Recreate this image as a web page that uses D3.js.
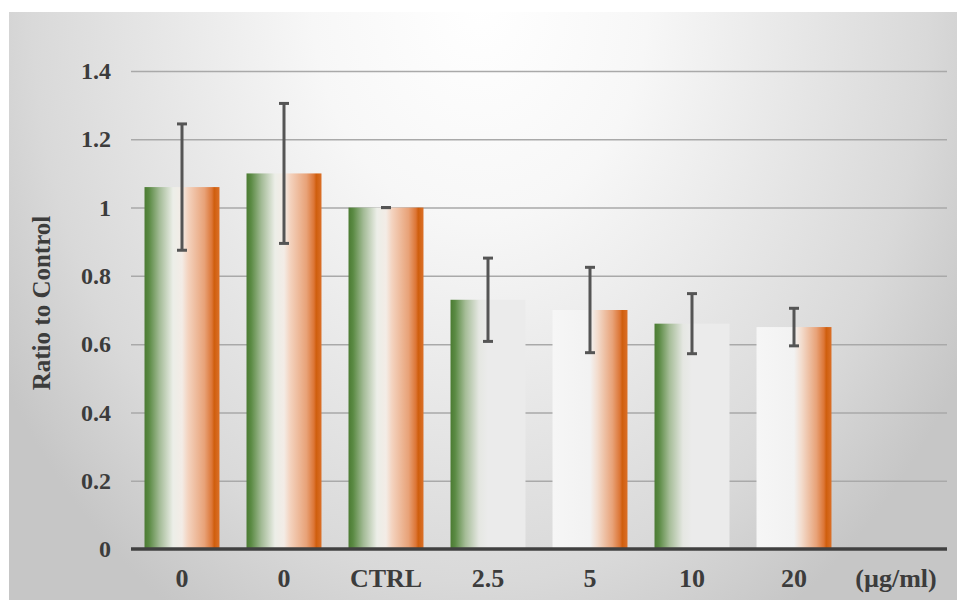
<!DOCTYPE html>
<html><head><meta charset="utf-8">
<script src="https://cdn.jsdelivr.net/npm/d3@7"></script>
<style>
html,body{margin:0;padding:0;background:#fff;}
svg{display:block;}
</style></head>
<body>
<script>
const categories = ["0", "0", "CTRL", "2.5", "5", "10", "20"];
const unitLabel = "(µg/ml)";
const values = [1.06, 1.10, 1.00, 0.73, 0.70, 0.66, 0.65];
const errors = [0.185, 0.205, 0.0, 0.122, 0.125, 0.088, 0.055];
const fillTypes = ["full", "full", "full", "green", "orange", "green", "orange"];
const yTicks = [0, 0.2, 0.4, 0.6, 0.8, 1, 1.2, 1.4];
const yTitle = "Ratio to Control";

const W = 957, H = 600;
const svg = d3.select("body").append("svg").attr("width", W).attr("height", H);
const defs = svg.append("defs");
const FONT = "'Liberation Serif', 'Times New Roman', serif";
const TXT = "#3c3c3c";

// background
const bg = defs.append("radialGradient").attr("id", "bg")
  .attr("gradientUnits", "userSpaceOnUse")
  .attr("cx", 480).attr("cy", 0).attr("r", 560)
  .attr("gradientTransform", "translate(480,0) scale(1,1.3) translate(-480,0)");
[[0, "#ffffff"], [0.3, "#f7f7f7"], [0.8, "#d9d9d9"], [1, "#c6c6c6"]].forEach(([o, c]) =>
  bg.append("stop").attr("offset", o).attr("stop-color", c));
svg.append("rect").attr("x", 9).attr("y", 12).attr("width", W - 9).attr("height", H - 12).attr("fill", "url(#bg)");

function grad(id, stops) {
  const g = defs.append("linearGradient").attr("id", id).attr("x1", 0).attr("x2", 1).attr("y1", 0).attr("y2", 0);
  stops.forEach(([o, c]) => g.append("stop").attr("offset", o).attr("stop-color", c));
}
grad("full", [[0, "#4b7b32"], [0.06, "#5a8a43"], [0.2, "#a3bb96"], [0.38, "#eceee8"], [0.5, "#f3ece6"], [0.58, "#f4d3bf"], [0.8, "#e8a278"], [0.9, "#dc7535"], [0.93, "#cf5e0d"], [1, "#db7028"]]);
grad("green", [[0, "#4b7b32"], [0.06, "#5a8a43"], [0.2, "#a6bd98"], [0.38, "#e5e7e2"], [0.5, "#ebebeb"], [1, "#ebebeb"]]);
grad("orange", [[0, "#f6f6f6"], [0.5, "#f2f2f2"], [0.6, "#f3dccd"], [0.8, "#e8a278"], [0.9, "#dc7535"], [0.93, "#cf5e0d"], [1, "#db7028"]]);

const x = d3.scaleBand().domain(d3.range(categories.length + 1)).range([131, 947]).paddingInner(0.265).paddingOuter(0.1325);
const y = d3.scaleLinear().domain([0, 1.4]).range([549, 71]);

// gridlines
svg.append("g").attr("transform", "translate(131,0)")
  .call(d3.axisLeft(y).tickValues(yTicks.filter(t => t > 0)).tickSize(-(947 - 131)).tickFormat(""))
  .call(g => g.select(".domain").remove())
  .call(g => g.selectAll("line").attr("stroke", "#a9a9a9").attr("stroke-width", 1.5));

// y tick labels
svg.append("g").attr("transform", "translate(111,0)")
  .call(d3.axisLeft(y).tickValues(yTicks).tickSize(0).tickPadding(0).tickFormat(d => d3.format("")(+d.toFixed(1))))
  .call(g => g.select(".domain").remove())
  .call(g => g.selectAll("text").attr("font-family", FONT).attr("font-weight", "bold")
    .attr("font-size", 24).attr("fill", TXT));

// bars
svg.append("g").selectAll("rect").data(values).join("rect")
  .attr("x", (d, i) => x(i)).attr("width", x.bandwidth())
  .attr("y", d => y(d)).attr("height", d => y(0) - y(d))
  .attr("fill", (d, i) => `url(#${fillTypes[i]})`);

// x axis line
svg.append("line").attr("x1", 131).attr("x2", 947).attr("y1", y(0)).attr("y2", y(0))
  .attr("stroke", "#404040").attr("stroke-width", 3.5);

// x labels
const xLabels = categories.concat([unitLabel]);
svg.append("g").attr("transform", `translate(0,${y(0)})`)
  .call(d3.axisBottom(x).tickSize(0).tickFormat(i => xLabels[i]))
  .call(g => g.select(".domain").remove())
  .call(g => g.selectAll("text").attr("y", 38).attr("dy", null).attr("font-family", FONT).attr("font-weight", "bold")
    .attr("font-size", 26).attr("fill", TXT));

// error bars
const eb = svg.append("g").attr("stroke", "#555555").attr("stroke-width", 3);
values.forEach((v, i) => {
  const cx = x(i) + x.bandwidth() / 2;
  const e = errors[i];
  if (e > 0) eb.append("line").attr("x1", cx).attr("x2", cx).attr("y1", y(v + e)).attr("y2", y(v - e));
  [v + e, v - e].forEach(t => eb.append("line").attr("x1", cx - 5).attr("x2", cx + 5).attr("y1", y(t)).attr("y2", y(t)));
});

// y title
svg.append("text").attr("transform", "translate(50,303) rotate(-90)")
  .attr("text-anchor", "middle").attr("font-family", FONT).attr("font-weight", "bold")
  .attr("font-size", 25).attr("fill", TXT).text(yTitle);
</script>
</body></html>
